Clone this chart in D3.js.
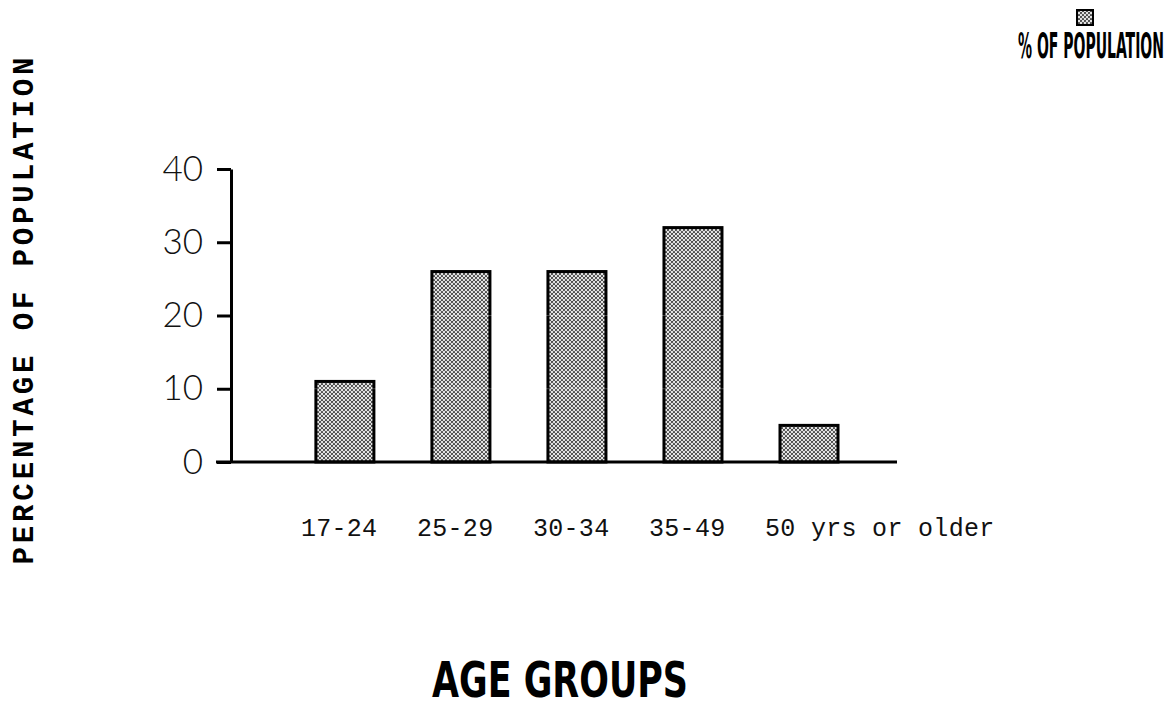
<!DOCTYPE html>
<html>
<head>
<meta charset="utf-8">
<script src="https://cdn.jsdelivr.net/npm/d3@7"></script>
<style>
  body { margin: 0; background: #fff; }
  svg { display: block; }
</style>
</head>
<body>
<div class="chart"></div>
<script>
// data
const ageGroups = ['17-24', '25-29', '30-34', '35-49', '50 yrs or older'];
const percentValues = [11, 26, 26, 32, 5];
const yTicks = [0, 10, 20, 30, 40];
const seriesName = '% OF POPULATION';

const width = 1174;
const height = 708;
const margin = { top: 169, left: 231, right: 277, bottom: 246 };

const svg = d3.select('.chart')
    .append('svg')
    .attr('width', width)
    .attr('height', height);

// dotted screen fill like the old printer output
const defs = svg.append('defs');
const pat = defs.append('pattern')
    .attr('id', 'dots')
    .attr('patternUnits', 'userSpaceOnUse')
    .attr('width', 4)
    .attr('height', 4);
pat.append('rect').attr('width', 4).attr('height', 4).attr('fill', '#e4e4e4');
pat.append('circle').attr('cx', 1).attr('cy', 1).attr('r', 1.1).attr('fill', '#444');
pat.append('circle').attr('cx', 3).attr('cy', 3).attr('r', 1.1).attr('fill', '#444');

const plotW = width - margin.left - margin.right;
const plotH = height - margin.top - margin.bottom;

const x = d3.scaleBand()
    .domain(ageGroups)
    .range([0, plotW])
    .paddingInner(0.5)
    .paddingOuter(0.62)
    .align(0.59);

const y = d3.scaleLinear()
    .domain([0, 40])
    .range([plotH, 0]);

const g = svg.append('g')
    .attr('transform', `translate(${margin.left},${margin.top})`);

// bars
g.selectAll('rect.bar')
    .data(percentValues)
    .enter()
    .append('rect')
    .attr('class', 'bar')
    .attr('x', (d, i) => x(ageGroups[i]))
    .attr('y', d => y(d))
    .attr('width', x.bandwidth())
    .attr('height', d => y(0) - y(d))
    .attr('fill', 'url(#dots)')
    .attr('stroke', '#000')
    .attr('stroke-width', 3);

// faint scan lines through the bars
g.selectAll('line.inner')
    .data([10, 20])
    .enter()
    .append('line')
    .attr('class', 'inner')
    .attr('x1', 0)
    .attr('x2', plotW)
    .attr('y1', d => y(d))
    .attr('y2', d => y(d))
    .attr('stroke', '#fff')
    .attr('stroke-opacity', 0.25)
    .attr('stroke-width', 1);

// y axis
const yAxis = g.append('g')
    .call(d3.axisLeft(y)
        .tickValues(yTicks)
        .tickSize(14)
        .tickSizeOuter(0)
        .tickPadding(14));
yAxis.select('.domain').attr('stroke', '#000').attr('stroke-width', 3);
yAxis.selectAll('.tick line').attr('stroke', '#000').attr('stroke-width', 3);
yAxis.selectAll('.tick text')
    .style('font-family', 'Lato, "Open Sans", sans-serif')
    .style('font-weight', 300)
    .style('font-size', '35px')
    .attr('fill', '#111');

// x axis baseline
const xAxis = g.append('g')
    .attr('transform', `translate(0,${y(0)})`)
    .call(d3.axisBottom(x).tickSize(0).tickPadding(0));
xAxis.select('.domain').remove();
g.append('line')
    .attr('x1', -15)
    .attr('x2', plotW)
    .attr('y1', y(0))
    .attr('y2', y(0))
    .attr('stroke', '#000')
    .attr('stroke-width', 3);
xAxis.selectAll('.tick text')
    .attr('text-anchor', 'start')
    .attr('x', -x.bandwidth() / 2 - 15)
    .attr('y', 74)
    .attr('dy', 0)
    .attr('fill', '#111')
    .style('font-family', '"Courier New", "Liberation Mono", monospace')
    .style('font-size', '25px')
    .style('letter-spacing', '0.3px');

// squeeze a condensed title to a given width
function narrowText(cx, by, size, target, label) {
    const t = svg.append('text')
        .attr('text-anchor', 'middle')
        .style('font-family', '"DejaVu Sans Condensed", "DejaVu Sans", sans-serif')
        .style('font-weight', 'bold')
        .style('font-size', size + 'px')
        .text(label);
    const k = target / t.node().getComputedTextLength();
    t.attr('transform', `translate(${cx},${by}) scale(${k},1)`);
    return t;
}

// axis titles
svg.append('text')
    .attr('transform', 'translate(33,311) rotate(-90)')
    .attr('text-anchor', 'middle')
    .attr('textLength', 507)
    .attr('lengthAdjust', 'spacing')
    .style('font-family', '"Courier New", "Liberation Mono", monospace')
    .style('font-weight', 'bold')
    .style('font-size', '29px')
    .text('PERCENTAGE OF POPULATION');

narrowText(560, 697, 50, 256, 'AGE GROUPS');

// legend
svg.append('rect')
    .attr('x', 1077)
    .attr('y', 10)
    .attr('width', 16)
    .attr('height', 15)
    .attr('fill', 'url(#dots)')
    .attr('stroke', '#000')
    .attr('stroke-width', 2);
narrowText(1091, 58, 35, 146, seriesName);
</script>
</body>
</html>
